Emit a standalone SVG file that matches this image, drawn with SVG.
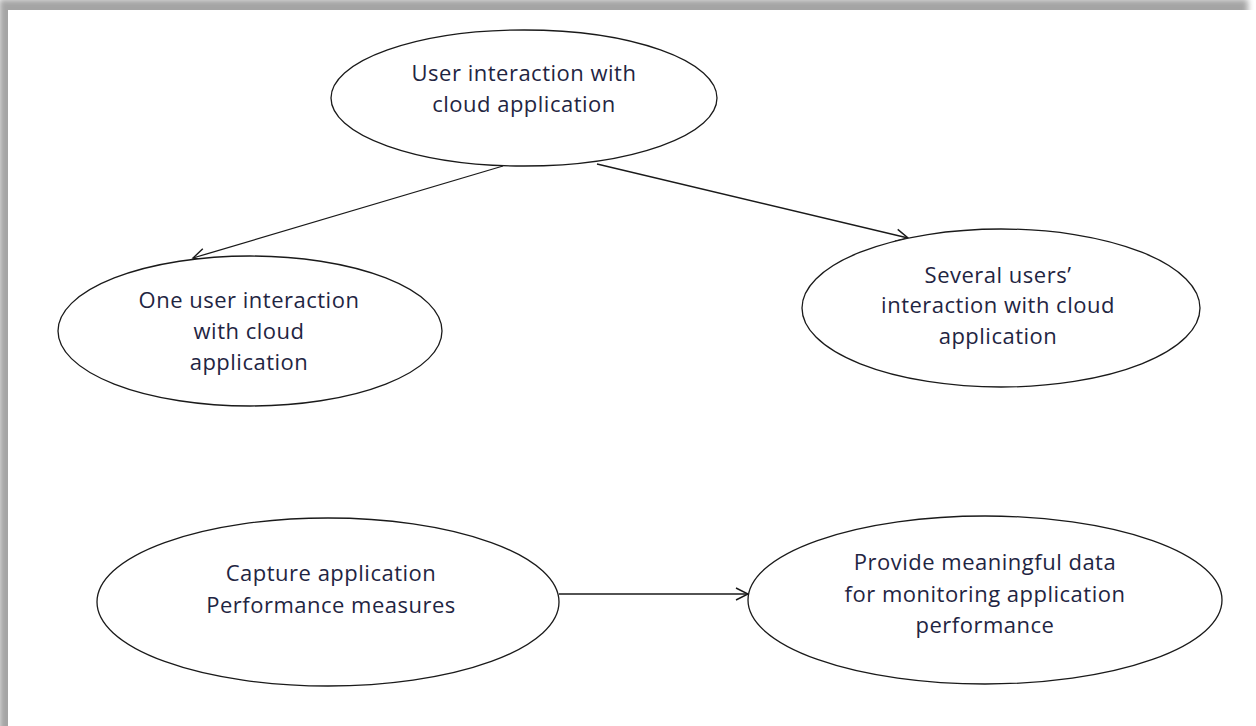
<svg xmlns="http://www.w3.org/2000/svg" width="1256" height="726" viewBox="0 0 1256 726">
  <style>
    .node ellipse { fill: #ffffff; stroke: #1a1a1a; stroke-width: 1.3; }
    .node text { font-family: "Open Sans", "Liberation Sans", sans-serif; font-size: 22px; letter-spacing: 0.5px; fill: #1f2542; text-anchor: middle; }
    .edge { fill: none; stroke: #1a1a1a; stroke-width: 1.3; marker-end: url(#arrow); }
  </style>
  <defs>
    <marker id="arrow" viewBox="-14 -8 16 16" refX="0" refY="0" markerWidth="16" markerHeight="16" markerUnits="userSpaceOnUse" orient="auto">
      <path d="M-12,-6 L0,0 L-12,6" fill="none" stroke="#1a1a1a" stroke-width="1.4"/>
    </marker>
    <filter id="shadow" x="-5%" y="-5%" width="110%" height="110%">
      <feGaussianBlur stdDeviation="3"/>
    </filter>
  </defs>

  <!-- page with soft drop shadow along the top and left edges -->
  <rect x="0" y="0" width="1256" height="726" fill="#ffffff"/>
  <rect x="-1" y="-1" width="1249" height="740" fill="#a4a4a4" filter="url(#shadow)"/>
  <rect x="8" y="10" width="1260" height="730" fill="#ffffff"/>

  <g id="connectors">
    <line class="edge" x1="503" y1="166" x2="193" y2="258"/>
    <line class="edge" x1="597" y1="164" x2="908" y2="238"/>
    <line class="edge" x1="559" y1="594" x2="748" y2="594"/>
  </g>

  <g id="user-interaction" class="node">
    <ellipse cx="524" cy="98" rx="193" ry="68"/>
    <text x="524" y="81">User interaction with</text>
    <text x="524" y="112">cloud application</text>
  </g>

  <g id="one-user" class="node">
    <ellipse cx="250" cy="331" rx="192" ry="75"/>
    <text x="249" y="308">One user interaction</text>
    <text x="249" y="339">with cloud</text>
    <text x="249" y="370">application</text>
  </g>

  <g id="several-users" class="node">
    <ellipse cx="1001" cy="308" rx="199" ry="79"/>
    <text x="998" y="283">Several users’</text>
    <text x="998" y="313">interaction with cloud</text>
    <text x="998" y="344">application</text>
  </g>

  <g id="capture-measures" class="node">
    <ellipse cx="328" cy="602" rx="231" ry="84"/>
    <text x="331" y="581">Capture application</text>
    <text x="331" y="613">Performance measures</text>
  </g>

  <g id="meaningful-data" class="node">
    <ellipse cx="985" cy="600" rx="237" ry="84"/>
    <text x="985" y="570">Provide meaningful data</text>
    <text x="985" y="602">for monitoring application</text>
    <text x="985" y="633">performance</text>
  </g>
</svg>
